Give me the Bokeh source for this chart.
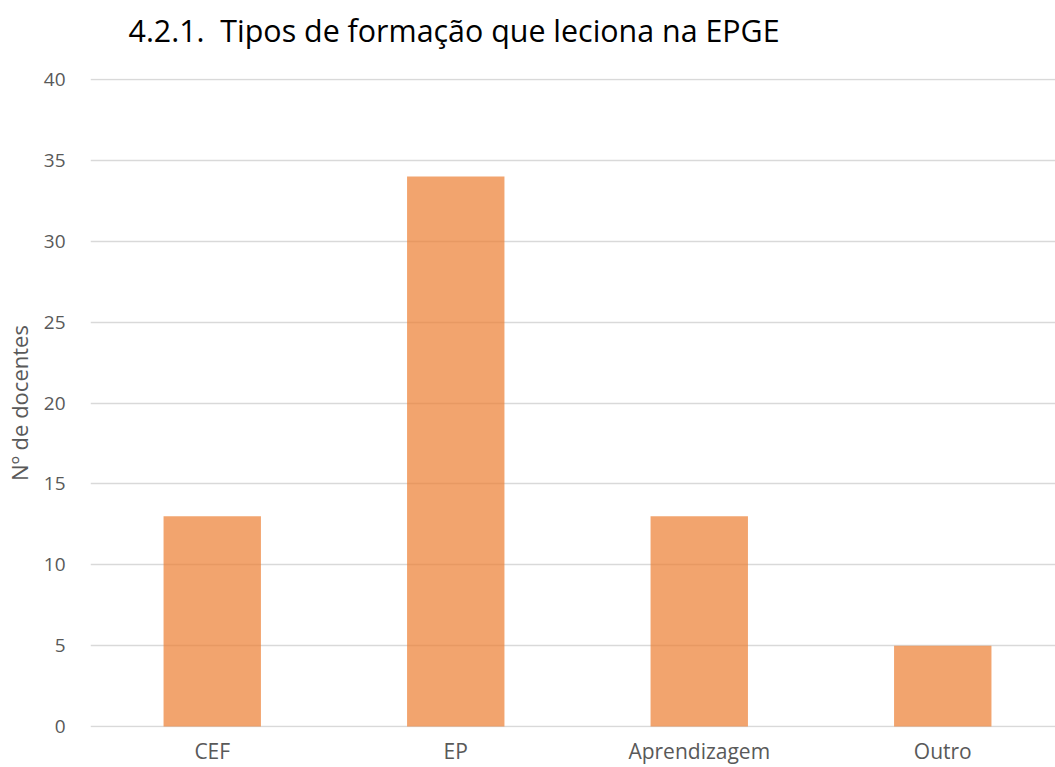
from bokeh.plotting import figure
from bokeh.models import Range1d, FixedTicker
from bokeh.embed import file_html
from bokeh.resources import INLINE

categories = ["CEF", "EP", "Aprendizagem", "Outro"]
values = [13, 34, 13, 5]
y_ticks = [0, 5, 10, 15, 20, 25, 30, 35, 40]

FONT = "Open Sans"
GRAY = "#595959"

xpos = [i + 0.5 for i in range(len(categories))]

p = figure(x_range=Range1d(0, 3.963), y_range=Range1d(-0.06, 40.06),
           width=1055, height=767, output_backend="svg", toolbar_location=None,
           min_border_left=90, min_border_right=0, min_border_top=78, min_border_bottom=0,
           title="4.2.1.\u00a0\u00a0Tipos de formação que leciona na EPGE")
p.outline_line_color = None

p.vbar(x=xpos, top=values, width=0.4, fill_color="#ED7D31", fill_alpha=0.7,
       line_color=None, level="overlay")

p.title.text_font = FONT
p.title.text_font_size = "30.4px"
p.title.text_font_style = "normal"
p.title.text_color = "#000000"
p.title.align = "left"
p.title.vertical_align = "bottom"
p.title.offset = 38
p.title.standoff = 0
p.title.padding = dict(left=0, right=0, top=0, bottom=28)

p.yaxis.ticker = y_ticks
p.yaxis.axis_line_color = None
p.yaxis.major_tick_line_color = None
p.yaxis.minor_tick_line_color = None
p.yaxis.major_label_text_font = FONT
p.yaxis.major_label_text_font_size = "19px"
p.yaxis.major_label_text_color = GRAY
p.yaxis.major_label_standoff = 19
p.yaxis.axis_label = "Nº de docentes"
p.yaxis.axis_label_text_font = FONT
p.yaxis.axis_label_text_font_size = "22px"
p.yaxis.axis_label_text_font_style = "normal"
p.yaxis.axis_label_text_color = GRAY
p.yaxis.axis_label_standoff = 7

p.xaxis.ticker = FixedTicker(ticks=xpos)
p.xaxis.major_label_overrides = {x: c for x, c in zip(xpos, categories)}
p.xaxis.axis_line_color = None
p.xaxis.major_tick_line_color = None
p.xaxis.minor_tick_line_color = None
p.xaxis.major_label_text_font = FONT
p.xaxis.major_label_text_font_size = "21px"
p.xaxis.major_label_text_color = GRAY
p.xaxis.major_label_standoff = 3

p.xgrid.grid_line_color = None
p.ygrid.grid_line_color = "#D9D9D9"
p.ygrid.grid_line_width = 1.5

open("out.html", "w").write(file_html(p, INLINE))
